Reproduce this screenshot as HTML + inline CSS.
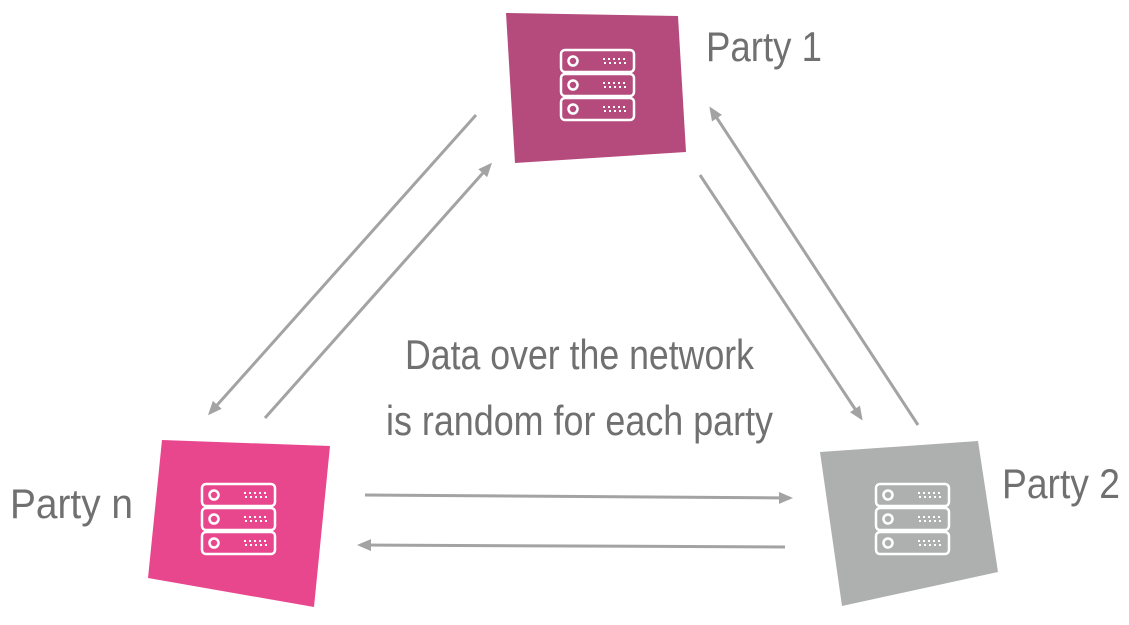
<!DOCTYPE html>
<html><head><meta charset="utf-8"><style>html,body{margin:0;padding:0;background:#fff}svg{display:block}</style></head>
<body>
<svg width="1129" height="625" viewBox="0 0 1129 625" xmlns="http://www.w3.org/2000/svg">
<defs>
<marker id="ah" markerWidth="14" markerHeight="12" refX="11" refY="6" orient="auto" markerUnits="userSpaceOnUse" viewBox="0 0 14 12">
<path d="M0,0 L14,6 L0,12 z" fill="#a3a3a3"/>
</marker>
<g id="srv" fill="none" stroke="#fff" stroke-width="2.5">
<rect x="0" y="0" width="73" height="22" rx="4"/>
<rect x="0" y="24" width="73" height="22" rx="4"/>
<rect x="0" y="48" width="73" height="22" rx="4"/>
<circle cx="12" cy="11" r="4.5"/><circle cx="12" cy="35" r="4.5"/><circle cx="12" cy="59" r="4.5"/>
<g stroke-dasharray="2 3" stroke-width="2">
<line x1="42" y1="9" x2="66" y2="9"/><line x1="43" y1="13" x2="65" y2="13"/>
<line x1="42" y1="33" x2="66" y2="33"/><line x1="43" y1="37" x2="65" y2="37"/>
<line x1="42" y1="57" x2="66" y2="57"/><line x1="43" y1="61" x2="65" y2="61"/>
</g>
</g>
</defs>
<polygon points="506,13 678,16 686,152 515,163" fill="#b54b7c"/>
<polygon points="162,440 330,446 314,607 148,578" fill="#e9478d"/>
<polygon points="820,452 978,441 998,572 842,606" fill="#adb0af"/>
<use href="#srv" x="561" y="50"/>
<use href="#srv" x="202" y="484"/>
<use href="#srv" x="876" y="484"/>
<g stroke="#a3a3a3" stroke-width="3" marker-end="url(#ah)">
<line x1="476" y1="115" x2="210" y2="413"/>
<line x1="265" y1="418" x2="490" y2="165"/>
<line x1="700" y1="175" x2="861" y2="418"/>
<line x1="918" y1="425" x2="711" y2="109"/>
<line x1="365" y1="495" x2="790" y2="498"/>
<line x1="785" y1="547" x2="360" y2="545"/>
</g>
<g font-family="Liberation Sans, sans-serif" fill="#707070" font-size="42">
<text x="706" y="61" textLength="116" lengthAdjust="spacingAndGlyphs">Party 1</text>
<text x="10" y="518" textLength="123" lengthAdjust="spacingAndGlyphs">Party n</text>
<text x="1002" y="498" textLength="118" lengthAdjust="spacingAndGlyphs">Party 2</text>
<text x="405" y="369" textLength="349" lengthAdjust="spacingAndGlyphs">Data over the network</text>
<text x="386" y="435" textLength="387" lengthAdjust="spacingAndGlyphs">is random for each party</text>
</g>
</svg>
</body></html>
